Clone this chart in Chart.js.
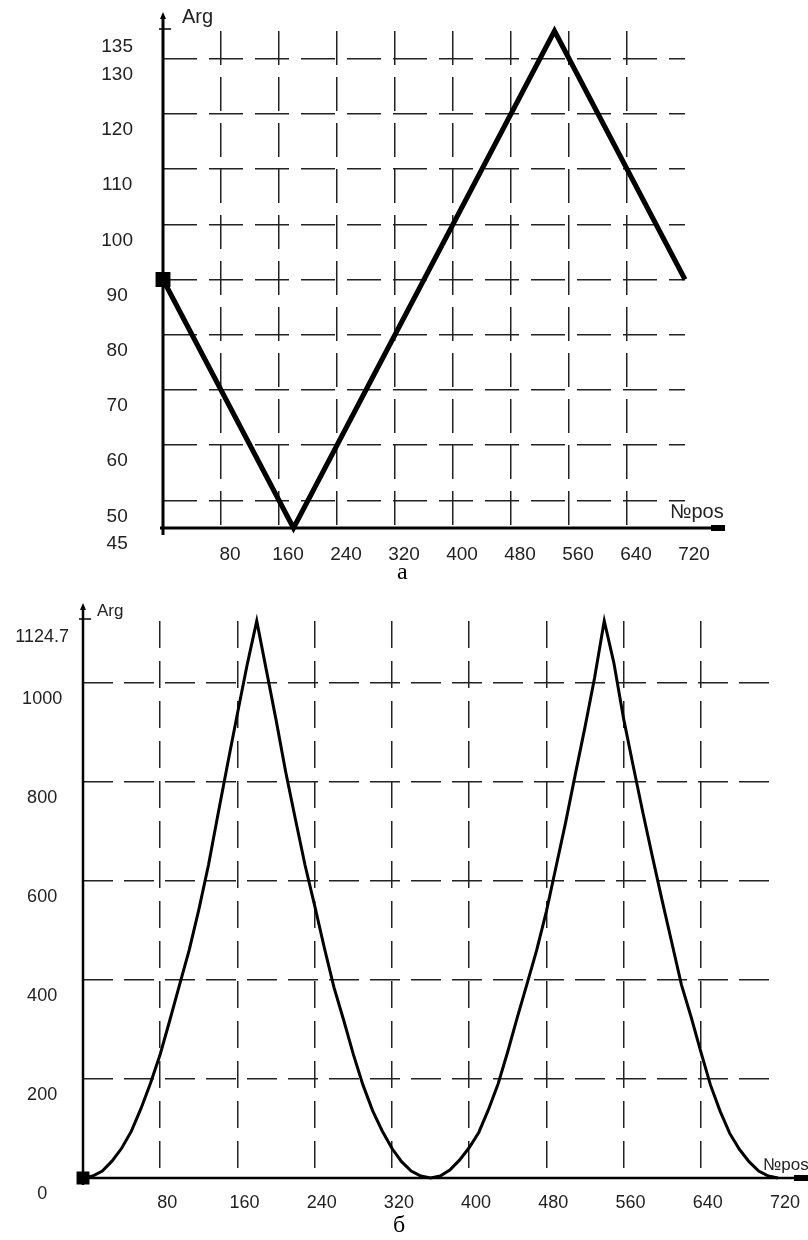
<!DOCTYPE html>
<html>
<head>
<meta charset="utf-8">
<script src="https://cdn.jsdelivr.net/npm/chart.js@4/dist/chart.umd.min.js"></script>
<style>
  body { margin: 0; background: #fff; }
  #wrap { position: relative; width: 808px; height: 1240px; }
  canvas { position: absolute; left: 0; }
  .cap { position: absolute; font-family: 'Liberation Serif', 'Times New Roman', serif; font-size: 24px; color: #000; }
</style>
</head>
<body>
<div id="wrap">
  <canvas id="chartA" width="808" height="560" style="top:0"></canvas>
  <div class="cap" style="left:397px; top:558px">а</div>
  <canvas id="chartB" width="808" height="650" style="top:590px"></canvas>
  <div class="cap" style="left:393px; top:1211px">б</div>
</div>
<script>
// chart a: triangular curve
const posA = [0, 180, 540, 720];
const argA = [90, 45, 135, 90];
const yTicksA = [45, 50, 60, 70, 80, 90, 100, 110, 120, 130, 135];

// chart б: read every 10 positions
const posB = [0, 10, 20, 30, 40, 50, 60, 70, 80, 90, 100, 110, 120, 130, 140, 150, 160, 170, 180,
  190, 200, 210, 220, 230, 240, 250, 260, 270, 280, 290, 300, 310, 320, 330, 340, 350, 360,
  370, 380, 390, 400, 410, 420, 430, 440, 450, 460, 470, 480, 490, 500, 510, 520, 530, 540,
  550, 560, 570, 580, 590, 600, 610, 620, 630, 640, 650, 660, 670, 680, 690, 700, 710, 720];
const argB = [0, 4, 14, 34, 60, 94, 140, 192, 250, 319, 390, 460, 542, 632, 736, 838, 938, 1036, 1124.7,
  1025, 925, 820, 725, 632, 550, 465, 385, 319, 250, 188, 136, 95, 60, 33, 14, 4, 0,
  4, 16, 36, 61, 92, 138, 190, 255, 325, 392, 460, 538, 628, 718, 815, 910, 1010, 1124.7,
  1040, 928, 832, 738, 648, 560, 475, 390, 325, 255, 188, 135, 90, 58, 33, 14, 4, 0];
const yTicksB = [0, 200, 400, 600, 800, 1000, 1124.7];

const xStep = 80;
const hidden = 'rgba(0,0,0,0)';

const axesArrows = {
  id: 'axesArrows',
  afterDraw(chart, args, o) {
    const { ctx, chartArea: a } = chart;
    ctx.save();
    ctx.strokeStyle = '#000';
    ctx.fillStyle = '#000';
    // y axis
    ctx.lineWidth = o.w;
    ctx.beginPath();
    ctx.moveTo(a.left, a.bottom + 7);
    ctx.lineTo(a.left, a.top - o.up + 4);
    ctx.stroke();
    ctx.beginPath();
    ctx.moveTo(a.left, a.top - o.up);
    ctx.lineTo(a.left - 3, a.top - o.up + 7);
    ctx.lineTo(a.left + 3, a.top - o.up + 7);
    ctx.closePath();
    ctx.fill();
    ctx.lineWidth = 1.5;
    ctx.beginPath();
    ctx.moveTo(a.left - 4, a.top - 2);
    ctx.lineTo(a.left + 8, a.top - 2);
    ctx.stroke();
    // x axis
    ctx.lineWidth = o.w;
    ctx.beginPath();
    ctx.moveTo(a.left - 3, a.bottom);
    ctx.lineTo(a.right + o.ext, a.bottom);
    ctx.stroke();
    ctx.fillRect(a.right + o.ext - 14, a.bottom - 3, 14, 6);
    // axis names
    ctx.font = o.font;
    ctx.textBaseline = 'middle';
    ctx.textAlign = 'left';
    ctx.fillStyle = '#222';
    ctx.fillText('Arg', a.left + o.argDx, a.top - o.argDy);
    ctx.fillText('№pos', a.right - 15, a.bottom - o.posDy);
    ctx.restore();
  }
};

function makeChart(id, pos, arg, yTicks, s) {
  const ctx = document.getElementById(id).getContext('2d');
  return new Chart(ctx, {
    type: 'line',
    data: {
      datasets: [{
        data: pos.map((x, i) => ({ x: x, y: arg[i] })),
        borderColor: '#000',
        backgroundColor: '#000',
        borderWidth: s.lw,
        borderJoinStyle: 'miter',
        tension: 0,
        clip: false,
        pointStyle: 'rect',
        pointRadius: c => c.dataIndex === 0 ? 7 : 0,
        pointHoverRadius: 0
      }]
    },
    options: {
      responsive: false,
      animation: false,
      events: [],
      layout: { padding: { top: 31, right: s.padRight, left: 0, bottom: 0 } },
      plugins: {
        legend: { display: false },
        tooltip: { enabled: false },
        axesArrows: s.arrows
      },
      scales: {
        x: {
          type: 'linear',
          min: 0,
          max: 720,
          afterFit: sc => { sc.height = s.xH; sc.paddingLeft = 0; sc.paddingRight = 0; },
          grid: {
            color: c => (c.tick && (c.tick.value === 0 || c.tick.value === 720)) ? hidden : '#222',
            lineWidth: 1.5,
            drawTicks: false
          },
          border: { display: false, dash: s.dashV },
          ticks: {
            stepSize: xStep,
            padding: s.xPad,
            labelOffset: s.xOff,
            maxRotation: 0,
            autoSkip: false,
            color: '#222',
            font: s.tickFont,
            callback: v => v === 0 ? '' : String(v)
          }
        },
        y: {
          type: 'linear',
          min: yTicks[0],
          max: yTicks[yTicks.length - 1],
          afterFit: sc => { sc.width = s.yW; sc.paddingTop = 0; sc.paddingBottom = 0; },
          afterBuildTicks: sc => { sc.ticks = yTicks.map(v => ({ value: v })); },
          grid: {
            color: c => (c.tick && (c.tick.value === yTicks[0] || c.tick.value === yTicks[yTicks.length - 1])) ? hidden : '#222',
            lineWidth: 1.5,
            drawTicks: false
          },
          border: { display: false, dash: s.dashH },
          ticks: {
            padding: s.yPad,
            labelOffset: 16,
            crossAlign: 'center',
            autoSkip: false,
            color: '#222',
            font: s.tickFont,
            callback: v => String(v)
          }
        }
      }
    },
    plugins: [axesArrows]
  });
}

makeChart('chartA', posA, argA, yTicksA, {
  lw: 5, padRight: 123, xH: 32, yW: 163, xPad: 15, xOff: 9, yPad: 30,
  dashV: [34, 12], dashH: [34, 12],
  tickFont: { family: "'Liberation Sans', Arial, sans-serif", size: 19 },
  arrows: { w: 3, up: 19, ext: 40, font: "20px 'Liberation Sans', Arial, sans-serif", argDx: 19, argDy: 14, posDy: 16 }
});

makeChart('chartB', posB, argB, yTicksB, {
  lw: 3, padRight: 30, xH: 62, yW: 83, xPad: 14, xOff: 7, yPad: 14,
  dashV: [27, 13], dashH: [30, 11],
  tickFont: { family: "'Liberation Sans', Arial, sans-serif", size: 18 },
  arrows: { w: 2.5, up: 18, ext: 30, font: "17px 'Liberation Sans', Arial, sans-serif", argDx: 14, argDy: 10, posDy: 13 }
});
</script>
</body>
</html>
